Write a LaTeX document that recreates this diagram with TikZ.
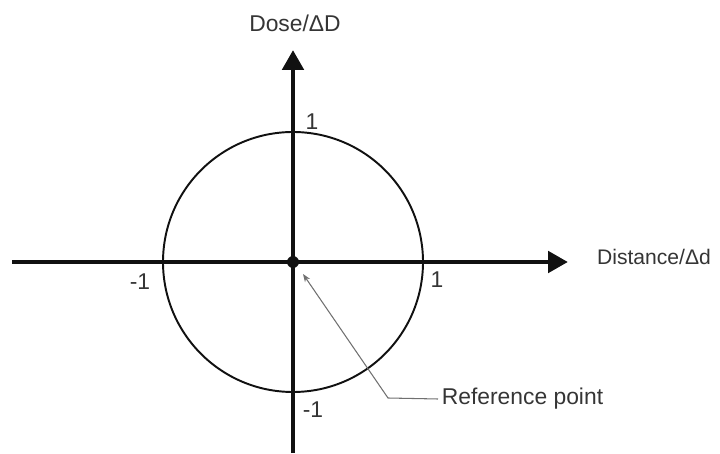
\documentclass[tikz,border=0pt]{standalone}
\usepackage{fontspec}
\setmainfont{Liberation Sans}
\usetikzlibrary{arrows.meta,calc}
\definecolor{ink}{HTML}{111111}
\definecolor{leadgray}{HTML}{707070}
\begin{document}
\begin{tikzpicture}[every node/.style={font=\fontsize{13}{15}\selectfont,text=ink!85},axis/.style={ink,line width=2.8pt,-{Triangle[length=4mm,width=4.2mm]}},ring/.style={ink,line width=1.1pt},lead/.style={leadgray,line width=.6pt,{Stealth[length=1.6mm]}-}]
\useasboundingbox (0,0) rectangle (14.4,9.06);
\coordinate (O) at (5.86,3.82);\def\R{2.6}
\draw[ring] (O) circle (\R);
\draw[axis] (.24,3.82)--(11.36,3.82);\draw[axis] (5.86,0)--(5.86,8.06);
\fill[ink] (O) circle (3.4pt);
\node (ylab) at (5.9,8.6){Dose/ΔD};\node[anchor=west,inner sep=1pt,font=\fontsize{12}{14}\selectfont] (xlab) at (11.9,3.92){Distance/Δd};
\node (ytop) at (6.24,6.62){1};\node (ybot) at (6.26,.86){-1};\node (xleft) at (2.8,3.42){-1};\node (xright) at (8.74,3.46){1};
\node[anchor=west,inner sep=2pt] (ref) at (8.76,1.08){Reference point};\coordinate (bend) at (7.76,1.1);\coordinate (tip) at (6.06,3.58);
\draw[lead] (tip)--(bend)--(ref.west);
\end{tikzpicture}
\end{document}
